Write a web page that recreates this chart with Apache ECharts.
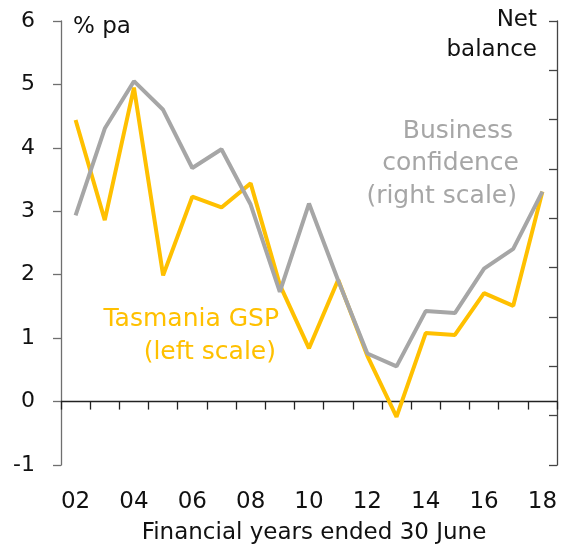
<!DOCTYPE html>
<html>
<head>
<meta charset="utf-8">
<script src="https://cdn.jsdelivr.net/npm/echarts@6/dist/echarts.min.js"></script>
<style>
  html, body { margin: 0; padding: 0; background: #fff; }
  #chart { width: 567px; height: 549px; }
</style>
</head>
<body>
<div id="chart"></div>
<script>
// 数据
var years = ['02', '03', '04', '05', '06', '07', '08', '09', '10', '11', '12', '13', '14', '15', '16', '17', '18'];
// 塔斯马尼亚 GSP，左轴 % pa
var gsp = [4.44, 2.86, 4.95, 1.99, 3.23, 3.06, 3.44, 1.84, 0.84, 1.92, 0.72, -0.24, 1.08, 1.05, 1.71, 1.51, 3.31];
// 商业信心，右轴 净差额
var confidence = [0.3, 9.1, 13.9, 11.0, 5.1, 7.0, 1.4, -7.45, 1.5, -6.3, -13.7, -15.0, -9.4, -9.6, -5.1, -3.1, 2.7];
var leftTicks = { min: -1, max: 6, step: 1 };
var rightTicks = { min: -25, max: 20, step: 5 };

(function () {
  var myChart = echarts.init(document.getElementById('chart'));
  var font = 'DejaVu Sans';
  var yellow = '#FFC000';
  var grey = '#A6A6A6';
  var ink = '#111';

  // 右对齐的单行文字
  function label(text, x, y, size, color) {
    return {
      type: 'text',
      x: x,
      y: y,
      style: { text: text, font: size + 'px "' + font + '"', fill: color, align: 'right', verticalAlign: 'middle' }
    };
  }

  var option = {
    animation: false,
    textStyle: { fontFamily: font },
    grid: { left: 61, right: 10, top: 21, height: 444 },
    xAxis: [
      {
        // 底部标签
        type: 'category',
        data: years,
        position: 'bottom',
        axisLine: { show: false, onZero: false },
        axisTick: { show: false },
        axisLabel: { interval: 1, margin: 26, fontSize: 23, color: ink, fontFamily: font }
      },
      {
        // 零线 + 刻度
        type: 'category',
        data: years,
        position: 'bottom',
        axisLine: { show: true, onZero: true, onZeroAxisIndex: 0, lineStyle: { color: '#222', width: 1.3 } },
        axisTick: { show: true, interval: 0, length: 8, lineStyle: { color: '#222', width: 1.3 } },
        axisLabel: { show: false }
      }
    ],
    yAxis: [
      {
        type: 'value',
        min: leftTicks.min,
        max: leftTicks.max,
        interval: leftTicks.step,
        axisLine: { show: true, lineStyle: { color: '#6f6f6f', width: 1.3 } },
        axisTick: { show: true, length: 8, lineStyle: { color: '#6f6f6f', width: 1.3 } },
        axisLabel: { margin: 26, fontSize: 22, color: ink, fontFamily: font },
        splitLine: { show: false }
      },
      {
        type: 'value',
        position: 'right',
        min: rightTicks.min,
        max: rightTicks.max,
        interval: rightTicks.step,
        axisLine: { show: true, lineStyle: { color: '#444', width: 1.3 } },
        axisTick: { show: true, inside: true, length: 8, lineStyle: { color: '#444', width: 1.3 } },
        axisLabel: { show: false },
        splitLine: { show: false }
      }
    ],
    series: [
      {
        name: 'Tasmania GSP',
        type: 'line',
        xAxisIndex: 0,
        yAxisIndex: 0,
        data: gsp,
        showSymbol: false,
        lineStyle: { color: yellow, width: 4 },
        itemStyle: { color: yellow }
      },
      {
        name: 'Business confidence',
        type: 'line',
        xAxisIndex: 0,
        yAxisIndex: 1,
        data: confidence,
        showSymbol: false,
        lineStyle: { color: grey, width: 4 },
        itemStyle: { color: grey }
      }
    ],
    graphic: [
      { type: 'text', x: 73, y: 27, style: { text: '% pa', font: '23px "' + font + '"', fill: ink, verticalAlign: 'middle' } },
      label('Net', 537, 20, 23, ink),
      label('balance', 537, 50, 23, ink),
      label('Business', 513, 131, 25, grey),
      label('confidence', 519, 163, 25, grey),
      label('(right scale)', 517, 196, 25, grey),
      label('Tasmania GSP', 279, 319, 25, yellow),
      label('(left scale)', 276, 352, 25, yellow),
      { type: 'text', x: 314, y: 533, style: { text: 'Financial years ended 30 June', font: '23px "' + font + '"', fill: ink, align: 'center', verticalAlign: 'middle' } }
    ]
  };
  myChart.setOption(option);
})();
</script>
</body>
</html>
